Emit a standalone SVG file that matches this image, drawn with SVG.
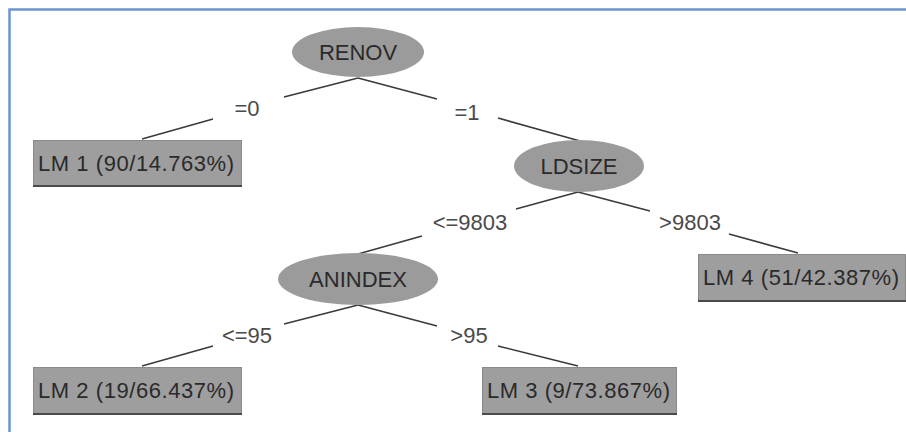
<svg xmlns="http://www.w3.org/2000/svg" width="906" height="432" viewBox="0 0 906 432">
  <style>
    .split { fill: #9b9b9b; }
    .leaf { fill: #9e9e9e; stroke: #8a8a8a; stroke-width: 1; }
    .leaf-edge { stroke: #4a4a4a; stroke-width: 2; }
    .node-text { font-family: "Liberation Sans", Arial, sans-serif; font-size: 22px; fill: #2a2a2a; text-anchor: middle; }
    .leaf-text { font-family: "Liberation Sans", Arial, sans-serif; font-size: 22px; fill: #2a2a2a; }
    .edge { stroke: #3a3a3a; stroke-width: 1.6; fill: none; }
    .edge-label { font-family: "Liberation Sans", Arial, sans-serif; font-size: 22px; fill: #4a4a4a; text-anchor: middle; }
  </style>

  <rect x="0" y="0" width="906" height="432" fill="#ffffff"/>
  <!-- panel frame -->
  <path d="M9.5 432 V9.5 H906" fill="none" stroke="#6b95d0" stroke-width="2.5"/>

  <!-- connectors with their condition labels -->
  <g id="connectors">
    <line class="edge" x1="358" y1="78" x2="284" y2="97"/>
    <line class="edge" x1="213" y1="119" x2="142" y2="139"/>
    <text class="edge-label" x="247" y="116">=0</text>

    <line class="edge" x1="358" y1="78" x2="437" y2="99"/>
    <line class="edge" x1="498" y1="118" x2="580" y2="141"/>
    <text class="edge-label" x="467" y="120">=1</text>

    <line class="edge" x1="578" y1="192" x2="516" y2="209"/>
    <line class="edge" x1="422" y1="236" x2="358" y2="254"/>
    <text class="edge-label" x="470" y="230">&lt;=9803</text>

    <line class="edge" x1="578" y1="192" x2="650" y2="211"/>
    <line class="edge" x1="729" y1="234" x2="798" y2="253"/>
    <text class="edge-label" x="690" y="230">&gt;9803</text>

    <line class="edge" x1="358" y1="305" x2="284" y2="324"/>
    <line class="edge" x1="213" y1="346" x2="142" y2="366"/>
    <text class="edge-label" x="247" y="343">&lt;=95</text>

    <line class="edge" x1="358" y1="305" x2="437" y2="326"/>
    <line class="edge" x1="498" y1="346" x2="578" y2="366"/>
    <text class="edge-label" x="469" y="343">&gt;95</text>
  </g>

  <g id="node-renov">
    <ellipse class="split" cx="358" cy="52" rx="66" ry="25"/>
    <text class="node-text" x="358" y="60">RENOV</text>
  </g>

  <g id="node-ldsize">
    <ellipse class="split" cx="579" cy="166" rx="65" ry="26"/>
    <text class="node-text" x="579" y="174">LDSIZE</text>
  </g>

  <g id="node-anindex">
    <ellipse class="split" cx="358" cy="279" rx="80" ry="26"/>
    <text class="node-text" x="358" y="287">ANINDEX</text>
  </g>

  <g id="leaf-lm1">
    <rect class="leaf" x="33.5" y="140.5" width="208" height="45"/>
    <line class="leaf-edge" x1="33" y1="186" x2="242" y2="186"/>
    <text class="leaf-text" x="38" y="171" textLength="196">LM 1 (90/14.763%)</text>
  </g>

  <g id="leaf-lm4">
    <rect class="leaf" x="698.5" y="254.5" width="207" height="46"/>
    <line class="leaf-edge" x1="698" y1="301" x2="906" y2="301"/>
    <text class="leaf-text" x="703" y="285" textLength="196">LM 4 (51/42.387%)</text>
  </g>

  <g id="leaf-lm2">
    <rect class="leaf" x="33.5" y="367.5" width="208" height="46"/>
    <line class="leaf-edge" x1="33" y1="414" x2="242" y2="414"/>
    <text class="leaf-text" x="38" y="398" textLength="196">LM 2 (19/66.437%)</text>
  </g>

  <g id="leaf-lm3">
    <rect class="leaf" x="482.5" y="367.5" width="194" height="46"/>
    <line class="leaf-edge" x1="482" y1="414" x2="677" y2="414"/>
    <text class="leaf-text" x="487" y="398" textLength="183">LM 3 (9/73.867%)</text>
  </g>
</svg>
